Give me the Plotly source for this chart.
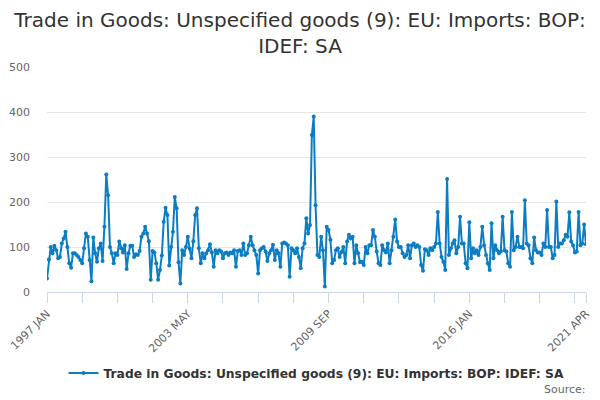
import pandas as pd
import plotly.graph_objects as go

# Monthly categories 1997 JAN .. 2021 APR
months = [d.strftime("%Y %b").upper() for d in pd.date_range("1997-01-01", "2021-04-01", freq="MS")]

vals_1997_2000 = [30, 72, 100, 86, 103, 93, 75, 78, 108, 119, 134, 100, 64, 54, 86, 86, 82, 78, 71, 64,
                  97, 130, 123, 71, 24, 121, 86, 67, 97, 108, 69, 145, 261, 215, 100, 86, 64, 86, 82, 112,
                  97, 88]
vals_2000_2003 = [104, 51, 86, 103, 103, 78, 84, 82, 91, 123, 130, 145, 130, 113, 27, 91, 88, 64, 27, 49,
                  81, 156, 187, 171, 59, 100, 134, 211, 186, 66, 19, 93, 82, 100, 123, 96, 75, 113, 171, 186]
vals_2003_2007 = [97, 64, 86, 75, 86, 93, 106, 88, 56, 93, 86, 93, 90, 75, 86, 88, 82, 88, 86, 93,
                  56, 91, 93, 82, 108, 82, 86, 104, 123, 104, 93, 82, 41, 93, 97, 100, 90, 69, 86, 93]
vals_2007_2010 = [105, 71, 93, 86, 56, 108, 110, 108, 104, 34, 97, 93, 86, 97, 78, 53, 97, 108, 164, 130,
                  149, 349, 390, 193, 82, 78, 123, 93, 12, 145, 138, 116, 64, 71, 93, 97, 78, 89, 100, 64,
                  112, 127]
vals_2010_2013 = [119, 123, 64, 104, 86, 66, 67, 60, 100, 86, 104, 104, 138, 123, 90, 64, 60, 104, 93, 88,
                  108, 64, 93, 123, 161, 112, 100, 100, 86, 78, 82, 104, 75, 104, 108, 100, 104, 100, 60, 47]
vals_2014_2017 = [95, 93, 82, 97, 93, 100, 108, 178, 108, 78, 67, 49, 251, 82, 97, 108, 115, 86, 100, 167,
                  108, 108, 64, 53, 155, 75, 97, 86, 93, 82, 100, 145, 104, 82, 64, 49, 153, 75, 104, 93,
                  86, 90]
vals_2017_2021 = [167, 93, 90, 64, 56, 178, 93, 100, 123, 100, 100, 97, 204, 108, 104, 75, 64, 121, 93, 88,
                  88, 82, 108, 100, 182, 100, 100, 75, 82, 201, 100, 108, 108, 115, 127, 123, 177, 112, 104, 88,
                  90, 178, 104, 108, 150, 106]

values = (vals_1997_2000 + vals_2000_2003 + vals_2003_2007 + vals_2007_2010
          + vals_2010_2013 + vals_2014_2017 + vals_2017_2021)

label_months = ["1997 JAN", "2003 MAY", "2009 SEP", "2016 JAN", "2021 APR"]
tick_months = [months[i] for i in range(0, len(months), 19)] + [months[-1]]
tick_text = [m if m in label_months else "" for m in tick_months]

series_name = "Trade in Goods: Unspecified goods (9): EU: Imports: BOP: IDEF: SA"
color = "#0b7dc3"
font = "DejaVu Sans"

fig = go.Figure()
fig.add_trace(go.Scatter(
    x=months, y=values, mode="lines+markers",
    name="<b>" + series_name + "</b>",
    line=dict(color=color, width=2),
    marker=dict(color=color, size=4),
))

fig.update_layout(
    width=600, height=400,
    paper_bgcolor="white", plot_bgcolor="white",
    margin=dict(l=47, r=14, t=67, b=108, autoexpand=False),
    font=dict(family=font, color="#666666", size=11),
    title=dict(text="Trade in Goods: Unspecified goods (9): EU: Imports: BOP:<br>IDEF: SA",
               x=0.5, xanchor="center", y=1 - 27 / 400, yanchor="middle", yref="container",
               font=dict(family=font, size=20, color="#333333")),
    showlegend=True,
    legend=dict(orientation="h", x=0.5, xanchor="center", y=-0.36, yanchor="middle",
                itemwidth=30, font=dict(family=font, size=12.3, color="#333333")),
    xaxis=dict(type="category", range=[0, len(months) - 1], automargin=False,
               tickmode="array", tickvals=tick_months, ticktext=tick_text,
               tickangle=-45, ticks="outside", ticklen=10, tickcolor="#ccd6eb",
               showline=True, linecolor="#ccd6eb", linewidth=1, showgrid=False,
               tickfont=dict(size=11, color="#666666")),
    yaxis=dict(range=[0, 500], dtick=100, showgrid=True, gridcolor="#e6e6e6",
               zeroline=False, showline=False, ticks="", automargin=False,
               ticklabelstandoff=16,
               tickfont=dict(size=11, color="#666666")),
    annotations=[dict(text="Source:", xref="paper", yref="paper", x=1.004, y=-0.435,
                      xanchor="right", yanchor="middle", showarrow=False,
                      font=dict(family=font, size=11, color="#666666"))],
)

fig.write_html("out.html", config={"displayModeBar": False},
               post_script="document.body.style.margin='0';document.body.style.overflow='hidden';")
